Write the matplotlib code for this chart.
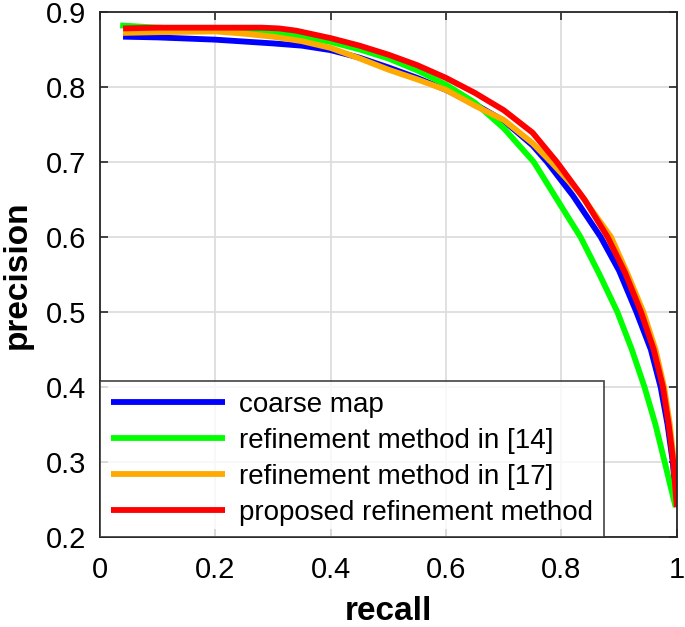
import matplotlib
matplotlib.use("Agg")
import matplotlib.pyplot as plt

plt.rcParams['font.family'] = ['Liberation Sans', 'DejaVu Sans']

# data
blue_x = [0.04, 0.1, 0.2, 0.3, 0.35, 0.4, 0.45, 0.5, 0.55, 0.6, 0.65, 0.7, 0.75, 0.775, 0.82, 0.868, 0.9, 0.93, 0.955, 0.972, 0.984, 0.993, 1.0]
blue_y = [0.867, 0.866, 0.863, 0.858, 0.855, 0.849, 0.839, 0.826, 0.812, 0.796, 0.777, 0.755, 0.722, 0.7, 0.655, 0.6, 0.555, 0.5, 0.45, 0.4, 0.35, 0.3, 0.24]

orange_x = [0.04, 0.1, 0.2, 0.25, 0.3, 0.35, 0.4, 0.45, 0.5, 0.55, 0.6, 0.65, 0.7, 0.75, 0.782, 0.83, 0.886, 0.915, 0.942, 0.963, 0.978, 0.988, 0.995, 1.0]
orange_y = [0.872, 0.873, 0.874, 0.871, 0.867, 0.861, 0.852, 0.838, 0.823, 0.81, 0.796, 0.775, 0.756, 0.725, 0.7, 0.66, 0.6, 0.55, 0.5, 0.45, 0.4, 0.35, 0.3, 0.24]

green_x = [0.035, 0.1, 0.2, 0.3, 0.35, 0.4, 0.45, 0.5, 0.55, 0.6, 0.65, 0.7, 0.752, 0.798, 0.833, 0.866, 0.897, 0.922, 0.944, 0.963, 0.979, 0.99, 0.998]
green_y = [0.882, 0.879, 0.876, 0.872, 0.867, 0.86, 0.85, 0.838, 0.822, 0.803, 0.779, 0.745, 0.7, 0.643, 0.6, 0.55, 0.5, 0.45, 0.4, 0.35, 0.3, 0.265, 0.24]

red_x = [0.04, 0.1, 0.2, 0.28, 0.31, 0.34, 0.37, 0.4, 0.45, 0.5, 0.55, 0.6, 0.65, 0.7, 0.75, 0.792, 0.84, 0.88, 0.91, 0.938, 0.96, 0.976, 0.986, 0.994, 1.0]
red_y = [0.878, 0.879, 0.879, 0.879, 0.878, 0.875, 0.87, 0.865, 0.855, 0.843, 0.829, 0.812, 0.792, 0.769, 0.739, 0.7, 0.65, 0.6, 0.553, 0.5, 0.45, 0.4, 0.35, 0.3, 0.24]

labels = ["coarse map", "refinement method in [14]", "refinement method in [17]", "proposed refinement method"]
colors = ["#0000ff", "#00ff00", "#ffaa00", "#ff0000"]

x_ticks = [0, 0.2, 0.4, 0.6, 0.8, 1]
x_ticklabels = ["0", "0.2", "0.4", "0.6", "0.8", "1"]
y_ticks = [0.2, 0.3, 0.4, 0.5, 0.6, 0.7, 0.8, 0.9]
y_ticklabels = ["0.2", "0.3", "0.4", "0.5", "0.6", "0.7", "0.8", "0.9"]

fig = plt.figure(figsize=(6.85, 6.27), dpi=100)
ax = fig.add_axes([0.146, 0.1435, 0.842, 0.8375])

series = [(blue_x, blue_y), (green_x, green_y), (orange_x, orange_y), (red_x, red_y)]
for (xs, ys), c, lab in zip(series, colors, labels):
    ax.plot(xs, ys, color=c, lw=4.2, label=lab, solid_capstyle='butt', solid_joinstyle='round')

ax.set_xlim(0, 1)
ax.set_ylim(0.2, 0.9)
ax.set_xticks(x_ticks)
ax.set_xticklabels(x_ticklabels)
ax.set_yticks(y_ticks)
ax.set_yticklabels(y_ticklabels)
ax.grid(True, color='#dddddd', lw=1.3)
ax.set_axisbelow(True)
ax.tick_params(direction='in', top=True, right=True, labelsize=21, length=6,
               color='#262626', width=1.2)
ax.tick_params(axis='x', pad=14)
ax.tick_params(axis='y', pad=10)
for s in ax.spines.values():
    s.set_color('#262626')
    s.set_linewidth(1.3)

ax.set_xlabel("recall", fontsize=24, fontweight='bold', labelpad=8)
ax.set_ylabel("precision", fontsize=24, fontweight='bold', labelpad=9)

leg = ax.legend(loc='lower left', fontsize=20, frameon=True, fancybox=False,
                borderaxespad=0, edgecolor='#262626', handlelength=4.1,
                handletextpad=0.5, labelspacing=0.36, borderpad=0.4)
leg.get_frame().set_linewidth(1.3)
for h in leg.get_lines():
    h.set_linewidth(4.2)

fig.savefig("out.png", dpi=100)
